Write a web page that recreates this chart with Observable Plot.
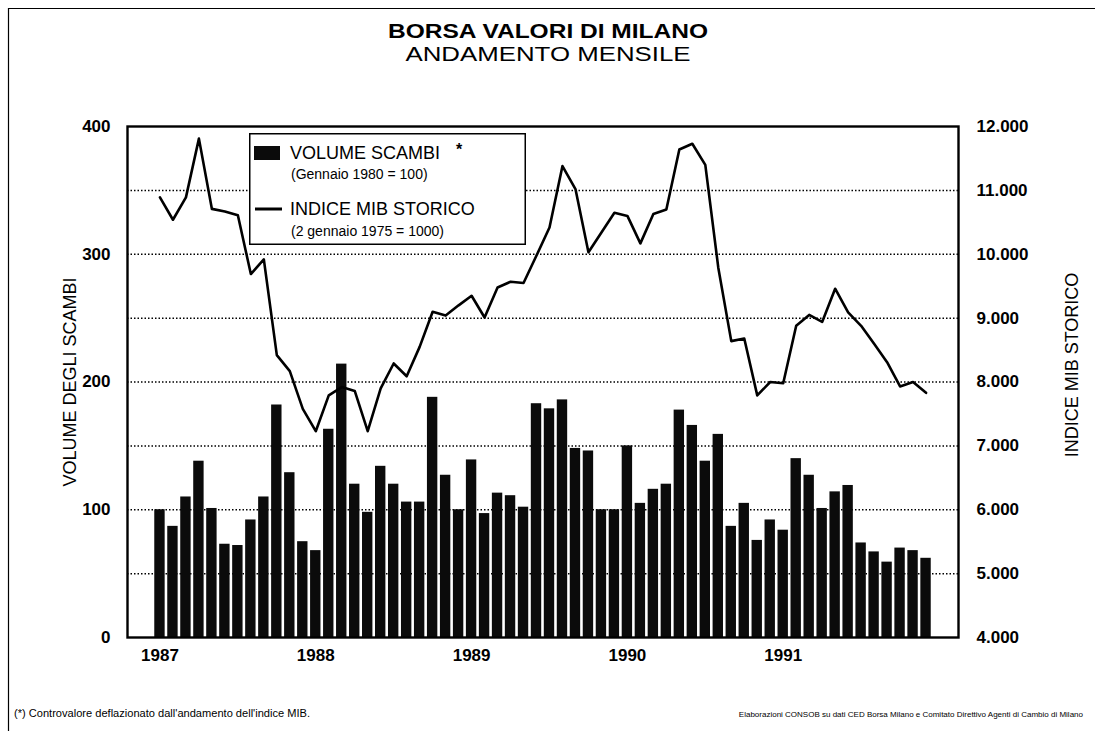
<!DOCTYPE html>
<html>
<head>
<meta charset="utf-8">
<script src="https://cdn.jsdelivr.net/npm/d3@7"></script>
<script src="https://cdn.jsdelivr.net/npm/@observablehq/plot@0.6"></script>
<style>
  html, body { margin: 0; padding: 0; background: #fff; }
  #page { position: relative; width: 1095px; height: 731px; overflow: hidden; background: #fff;
          font-family: "Liberation Sans", Arial, Helvetica, sans-serif; color: #000; }
  #chart { position: absolute; left: 0; top: 0; }
  .overlay { position: absolute; left: 0; top: 0; pointer-events: none; }
</style>
</head>
<body>
<div id="page">
  <div id="chart"></div>
  <svg id="legend" class="overlay" width="277" height="112" style="left:249px;top:133px"
       font-family="Liberation Sans, Arial, sans-serif">
    <rect x="0.75" y="0.75" width="275.5" height="110.5" fill="#fff" stroke="#000" stroke-width="1.5"></rect>
    <rect x="5" y="13" width="26" height="14" fill="#0b0b0b"></rect>
    <text x="41" y="26" font-size="18">VOLUME SCAMBI</text>
    <text x="207" y="22" font-size="16" font-weight="bold">*</text>
    <text x="42" y="46" font-size="14">(Gennaio 1980 = 100)</text>
    <line x1="6" x2="33" y1="76" y2="76" stroke="#000" stroke-width="3"></line>
    <text x="41" y="82" font-size="18">INDICE MIB STORICO</text>
    <text x="42" y="103" font-size="14">(2 gennaio 1975 = 1000)</text>
  </svg>
  <svg id="texts" class="overlay" width="1095" height="731" font-family="Liberation Sans, Arial, sans-serif">
    <line x1="8" x2="1095" y1="8.5" y2="8.5" stroke="#000" stroke-width="1.2"></line>
    <line x1="8.5" x2="8.5" y1="8" y2="731" stroke="#000" stroke-width="1.2"></line>
    <text x="548" y="38" text-anchor="middle" font-size="20" font-weight="bold"
          textLength="320" lengthAdjust="spacingAndGlyphs">BORSA VALORI DI MILANO</text>
    <text x="548" y="61" text-anchor="middle" font-size="20"
          textLength="285" lengthAdjust="spacingAndGlyphs">ANDAMENTO MENSILE</text>
    <text transform="translate(76,382) rotate(-90)" text-anchor="middle" font-size="18">VOLUME DEGLI SCAMBI</text>
    <text transform="translate(1078,365) rotate(-90)" text-anchor="middle" font-size="18">INDICE MIB STORICO</text>
    <text x="14" y="717" font-size="10" textLength="296" lengthAdjust="spacingAndGlyphs">(*) Controvalore deflazionato dall'andamento dell'indice MIB.</text>
    <text x="1083" y="717" text-anchor="end" font-size="8">Elaborazioni CONSOB su dati CED Borsa Milano e Comitato Direttivo Agenti di Cambio di Milano</text>
  </svg>
</div>
<script>
// Monthly data, January 1987 – December 1991 (60 months)
const volumeScambi = [
  100, 87, 110, 138, 101, 73, 72, 92, 110, 182, 129, 75,
  68, 163, 214, 120, 98, 134, 120, 106, 106, 188, 127, 100,
  139, 97, 113, 111, 102, 183, 179, 186, 148, 146, 100, 100,
  150, 105, 116, 120, 178, 166, 138, 159, 87, 105, 76, 92,
  84, 140, 127, 101, 114, 119, 74, 67, 59, 70, 68, 62
];
const indiceMib = [
  10890, 10540, 10890, 11810, 10710, 10670, 10610, 9690, 9920, 8420, 8170, 7580,
  7230, 7790, 7920, 7860, 7230, 7900, 8290, 8090, 8550, 9100, 9040, 9200,
  9350, 9010, 9480, 9570, 9550, 9980, 10420, 11380, 11020, 10030, 10340, 10650,
  10600, 10170, 10630, 10700, 11640, 11730, 11400, 9790, 8640, 8680, 7790, 8000,
  7980, 8880, 9050, 8940, 9460, 9090, 8880, 8600, 8310, 7930, 8000, 7830
];
const yearLabels = ["1987", "1988", "1989", "1990", "1991"];
const yearTickMonths = [0, 12, 24, 36, 48];          // month index of each January
const volumeTicks = [0, 100, 200, 300, 400];
const mibTicks = [4000, 5000, 6000, 7000, 8000, 9000, 10000, 11000, 12000];
const mibGrid = [5000, 6000, 7000, 8000, 9000, 10000, 11000];

// The MIB index shares the volume scale: 4.000 -> 0, 12.000 -> 400
const mibToVol = v => (v - 4000) / 20;
const volToMib = v => v * 20 + 4000;

const itFormat = d3.formatLocale({decimal: ",", thousands: ".", grouping: [3], currency: ["", " L."]}).format(",d");

const volData = volumeScambi.map((v, i) => ({i, v}));
const mibData = indiceMib.map((v, i) => ({i, v}));

const chart = Plot.plot({
  width: 1095,
  height: 731,
  marginTop: 126,
  marginBottom: 94,
  marginLeft: 127,
  marginRight: 137,
  x: {type: "linear", domain: [-2.5, 61.5], axis: null},
  y: {type: "linear", domain: [0, 400], axis: null},
  style: {fontFamily: "Liberation Sans, Arial, sans-serif", background: "transparent", color: "#000"},
  marks: [
    Plot.ruleY(mibGrid, {y: d => mibToVol(d), stroke: "#000", strokeWidth: 1.5, strokeDasharray: "1.5,2"}),
    Plot.rectY(volData, {x1: d => d.i - 0.4, x2: d => d.i + 0.4, y: "v", fill: "#0b0b0b"}),
    Plot.line(mibData, {x: "i", y: d => mibToVol(d.v), stroke: "#000", strokeWidth: 2.6}),
    Plot.frame({stroke: "#000", strokeWidth: 2.4}),
    Plot.axisY(volumeTicks, {anchor: "left", tickSize: 0, tickPadding: 17, fontSize: 17, fontWeight: "bold", label: null}),
    Plot.axisY(mibTicks.map(mibToVol), {anchor: "right", tickSize: 0, tickPadding: 18, fontSize: 17, fontWeight: "bold",
      tickFormat: d => itFormat(volToMib(d)), label: null}),
    Plot.axisX(yearTickMonths, {anchor: "bottom", tickSize: 0, tickPadding: 11, fontSize: 17, fontWeight: "bold",
      tickFormat: d => yearLabels[yearTickMonths.indexOf(d)], label: null})
  ]
});
document.getElementById("chart").appendChild(chart);
</script>
</body>
</html>
